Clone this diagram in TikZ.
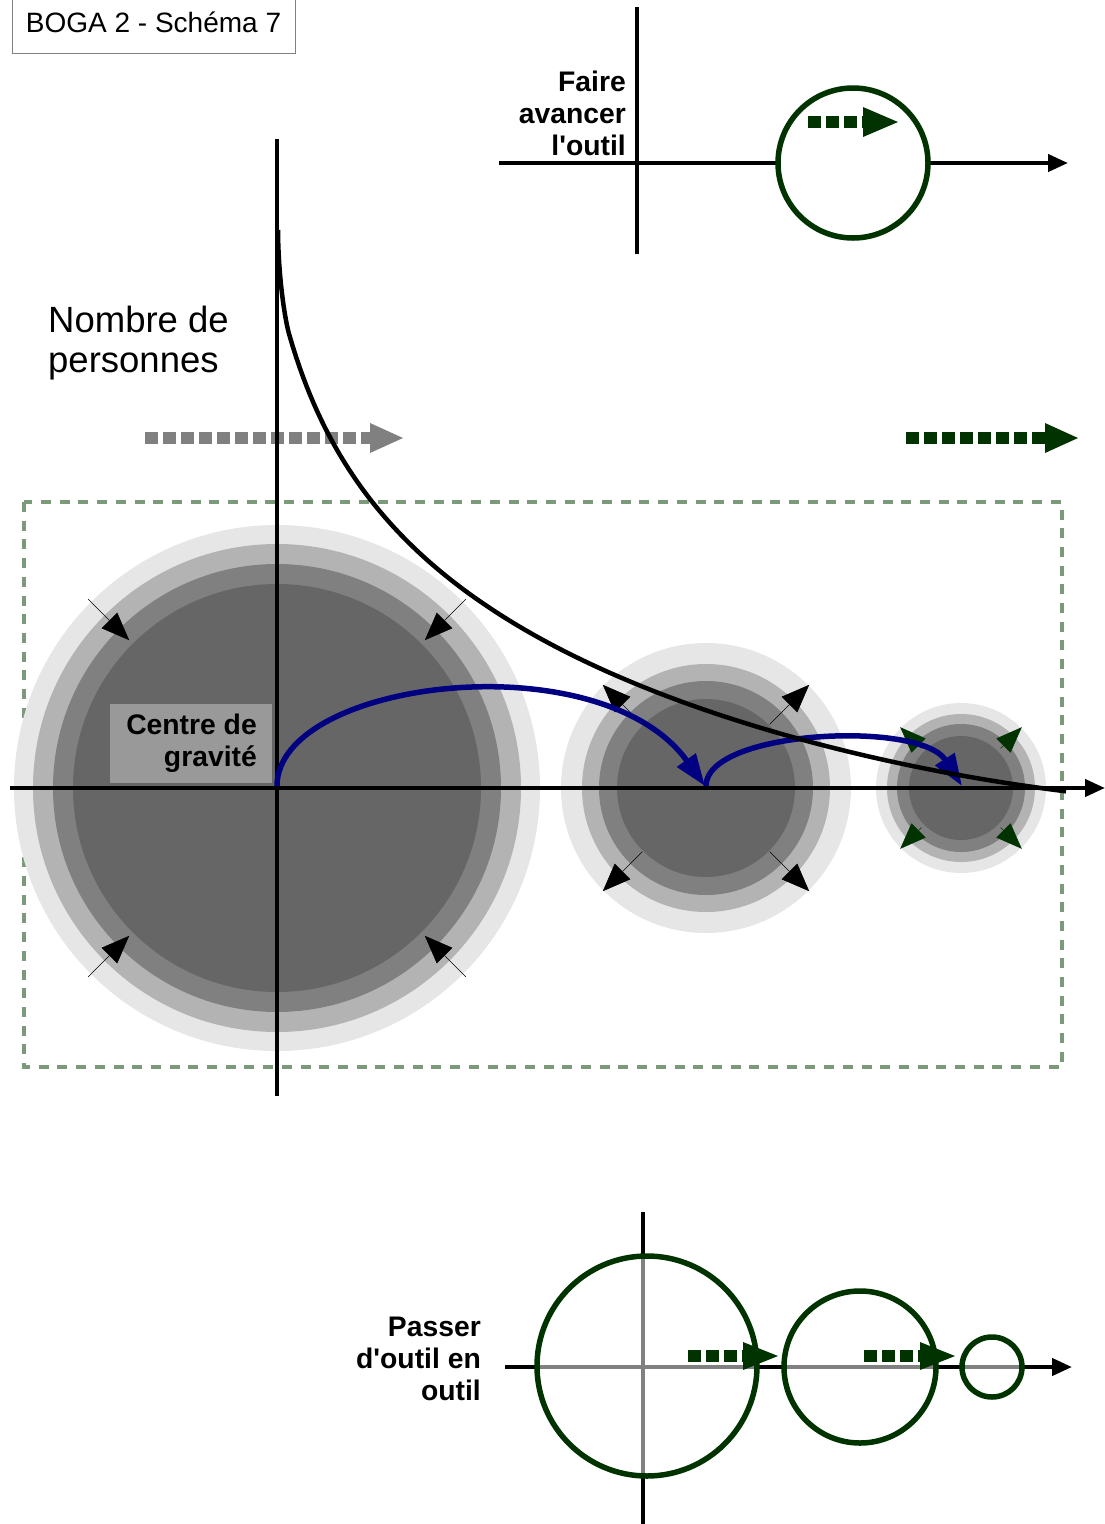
\documentclass[tikz,border=0pt]{standalone}
\usepackage{fontspec}
\setmainfont{Liberation Sans}
\usetikzlibrary{arrows.meta}
\definecolor{ringA}{HTML}{E6E6E6}
\definecolor{ringB}{HTML}{B3B3B3}
\definecolor{ringC}{HTML}{808080}
\definecolor{ringD}{HTML}{666666}
\definecolor{navy}{HTML}{000080}
\definecolor{forest}{HTML}{003300}
\definecolor{zonegreen}{HTML}{7A9A7A}
\definecolor{cdgbox}{HTML}{999999}
\begin{document}
\begin{tikzpicture}[x=1pt,y=-1pt,
  axis/.style={line width=4.2pt},
  axistip/.style={-{Triangle[length=20pt,width=17pt]}},
  squares/.style={line width=12pt,dash pattern=on 13pt off 5pt},
  radial/.style={line width=0.6pt,-{Triangle[length=28pt,width=22pt]}},
  tool/.style={forest,line width=5.5pt},
  hop/.style={navy,line width=5.5pt,-{Triangle[length=32pt,width=22pt]}},
  boldtext/.style={font=\bfseries\fontsize{28.3}{32}\selectfont,align=right,inner sep=0pt}]
\useasboundingbox (0,0) rectangle (1105,1524);

% titre
\draw[ringC,line width=1pt] (12,-2) rectangle (295,53);
\node[font=\fontsize{28}{32}\selectfont] (title) at (153.5,22) {BOGA 2 - Schéma 7};

% schema du haut
\draw[axis] (637,7) -- (637,254);
\draw[axis,axistip] (499,163) -- (1068,163);
\draw[tool,fill=white] (853,163) circle (75);
\draw[squares,forest] (808,122) -- (863,122);
\fill[forest] (863,107) -- (898,122) -- (863,137) -- cycle;
\node[boldtext,anchor=east] (faire) at (626,113) {Faire\\avancer\\l\textquotesingle outil};

\node[font=\fontsize{36.5}{40}\selectfont,align=left,anchor=west,inner sep=0pt] (nombre) at (48,343) {Nombre de\\personnes};

% zone
\draw[zonegreen,line width=3.5pt,dash pattern=on 10pt off 8.7pt] (24,502) rectangle (1062,1067);

% groupes
\foreach \r/\c in {263/ringA,244/ringB,224/ringC,204/ringD}
  \fill[\c] (277,788) circle (\r);
\foreach \r/\c in {145/ringA,124/ringB,107/ringC,89/ringD}
  \fill[\c] (706,788) circle (\r);
\foreach \r/\c in {85/ringA,74/ringB,64/ringC,52/ringD}
  \fill[\c] (961,788) circle (\r);
\foreach \a in {45,135,225,315} {
  \draw[radial,shift={(277,788)}] (\a:267) -- (\a:209);
  \draw[radial,shift={(706,788)}] (\a:90) -- (\a:146);
  \draw[radial,forest,shift={(961,788)},-{Triangle[length=26pt,width=20pt]}] (\a:56) -- (\a:86);
}
\fill[cdgbox] (110,704) rectangle (272,783);
\node[boldtext,anchor=east] (cdg) at (257,743.5) {Centre de\\gravité};

% fleches pointillees
\draw[squares,ringC] (145,438) -- (370,438);
\fill[ringC] (370,423) -- (403,438) -- (370,453) -- cycle;
\draw[squares,forest] (906,438) -- (1045,438);
\fill[forest] (1045,423) -- (1078,438) -- (1045,453) -- cycle;

% axes et courbe
\draw[axis] (277,139) -- (277,1096);
\draw[axis,axistip] (10,788) -- (1105,788);
\draw[hop] (277,786) .. controls (277,680) and (600,640) .. (705,786);
\draw[hop] (706,786) .. controls (706,730) and (920,720) .. (962,786);
\draw[line width=4.5pt,line join=round] (278,230) .. controls (278.3,280) and (285.5,321.5) .. (289,333.8)
  -- plot[domain=12:789,samples=220] ({277+\x},{788-(1089.5-165*ln(\x+35)+15*(\x/789)^4)});

% schema du bas
\draw[axis] (643,1212) -- (643,1524);
\draw[axis,axistip] (505,1367) -- (1072,1367);
\draw[axis,ringC] (643,1256) -- (643,1476);
\draw[axis,ringC] (537,1367) -- (757,1367);
\draw[axis,ringC] (786,1367) -- (936,1367);
\draw[axis,ringC] (964,1367) -- (1020,1367);
\draw[tool] (647,1366) circle (110);
\draw[tool] (860,1367) circle (76);
\draw[tool] (992,1367) circle (30);
\draw[squares,forest] (688,1356) -- (743,1356);
\fill[forest] (743,1342) -- (778,1356) -- (743,1370) -- cycle;
\draw[squares,forest] (864,1356) -- (920,1356);
\fill[forest] (920,1342) -- (955,1356) -- (920,1370) -- cycle;
\node[boldtext,anchor=east] (passer) at (481,1359) {Passer\\d\textquotesingle outil en\\outil};
\end{tikzpicture}
\end{document}
